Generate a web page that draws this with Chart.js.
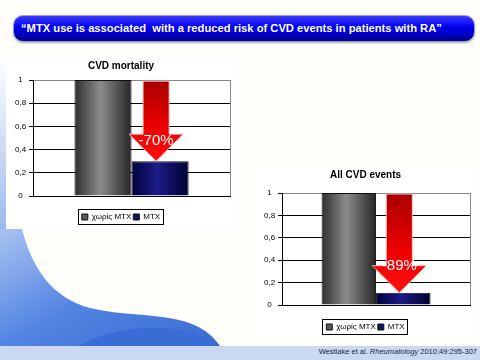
<!DOCTYPE html>
<html>
<head>
<meta charset="utf-8">
<script src="https://cdn.jsdelivr.net/npm/chart.js@4"></script>
<style>
  body { margin: 0; width: 480px; height: 360px; overflow: hidden; background: #fffefa; position: relative; font-family: "Liberation Sans", sans-serif; }
  #bg { position: absolute; left: 0; top: 0; }
  #banner {
    position: absolute; left: 13px; top: 15px; width: 462px; height: 27px;
    border-radius: 10px; box-sizing: border-box; border: 1px solid #9aa0c0;
    background: linear-gradient(to bottom, #3a3aff 0%, #0000f0 45%, #0000c0 75%, #00008a 100%);
    box-shadow: 0 1px 2px rgba(0,0,0,0.35);
    color: #fff; font: bold 11.2px "Liberation Sans", sans-serif; line-height: 25px; padding-left: 7px;
    white-space: nowrap;
  }
  .box { position: absolute; background: #fff; }
  #box1 { left: 6px; top: 57px; width: 232px; height: 172px; }
  #box2 { left: 255px; top: 164px; width: 222px; height: 172px; }
  #cite { position: absolute; right: 3px; top: 347px; font: 7.5px "Liberation Sans", sans-serif; color: #1a2448; }
</style>
</head>
<body>
<svg id="bg" width="480" height="360">
  <defs>
    <linearGradient id="sw" x1="0" y1="0" x2="1" y2="1">
      <stop offset="0" stop-color="#a9c3f2"/>
      <stop offset="0.5" stop-color="#5284e2"/>
      <stop offset="1" stop-color="#3a6bd2"/>
    </linearGradient>
    <linearGradient id="side" x1="0" y1="0" x2="0" y2="1">
      <stop offset="0" stop-color="#ffffff"/>
      <stop offset="1" stop-color="#9ab8ee"/>
    </linearGradient>
  </defs>
  <rect x="0" y="60" width="8" height="172" fill="url(#side)"/>
  <path d="M0,229 L22,229 C32,268 52,298 90,308 C140,320 195,308 220,346 L0,346 Z" fill="url(#sw)"/>
  <path d="M80,346 C105,326 190,318 215,346 Z" fill="#3a6cd6"/>
  <rect x="0" y="346" width="480" height="14" fill="#c8d9f1"/>
</svg>

<div id="banner">“MTX use is associated&nbsp; with a reduced risk of CVD events in patients with RA”</div>
<div class="box" id="box1"><canvas id="chart1" width="232" height="172"></canvas></div>
<div class="box" id="box2"><canvas id="chart2" width="222" height="172"></canvas></div>
<div id="cite">Westlake et al. <i>Rheumatology</i> 2010;49:295-307</div>

<script>
// data
var seriesNames = ['χωρίς MTX', 'MTX']
var categories = ['']
var mortalityValues = [1, 0.3]
var eventsValues = [1, 0.11]
var chartTitles = ['CVD mortality', 'All CVD events']
var reductionLabels = ['-70%', '-89%']

Chart.defaults.font.family = '"Liberation Sans", sans-serif'
Chart.defaults.color = '#000'

// bars get a horizontal "cylinder" gradient
var barShade = {
  id: 'barShade',
  beforeDatasetsDraw: function (chart) {
    var ctx = chart.ctx
    var stops = [
      ['#2e2e2e', '#8c8c8c', '#262626'],
      ['#00003c', '#1c1c86', '#000034']
    ]
    chart.data.datasets.forEach(function (ds, di) {
      chart.getDatasetMeta(di).data.forEach(function (bar) {
        var g = ctx.createLinearGradient(bar.x - bar.width / 2, 0, bar.x + bar.width / 2, 0)
        g.addColorStop(0, stops[di][0])
        g.addColorStop(0.45, stops[di][1])
        g.addColorStop(1, stops[di][2])
        bar.options.backgroundColor = g
      })
    })
  }
}

// red arrow from the top of the scale down to the MTX bar
var reductionArrow = {
  id: 'reductionArrow',
  afterDatasetsDraw: function (chart, args, opts) {
    var ctx = chart.ctx
    var bar = chart.getDatasetMeta(1).data[0]
    var y = chart.scales.y
    var cx = bar.x - 4
    var top = y.getPixelForValue(0.99)
    var tip = bar.y
    var headTop = tip - 27
    ctx.save()
    var g = ctx.createLinearGradient(0, top, 0, tip)
    g.addColorStop(0, '#a80000')
    g.addColorStop(0.6, '#f00000')
    g.addColorStop(1, '#ff1010')
    ctx.beginPath()
    ctx.moveTo(cx - 13, top)
    ctx.lineTo(cx + 13, top)
    ctx.lineTo(cx + 13, headTop)
    ctx.lineTo(cx + 27, headTop)
    ctx.lineTo(cx, tip)
    ctx.lineTo(cx - 27, headTop)
    ctx.lineTo(cx - 13, headTop)
    ctx.closePath()
    ctx.fillStyle = g
    ctx.fill()
    ctx.strokeStyle = 'rgba(255,200,200,0.8)'
    ctx.lineWidth = 1
    ctx.stroke()
    ctx.fillStyle = '#fff'
    ctx.font = '15px "Liberation Sans", sans-serif'
    ctx.textAlign = 'center'
    ctx.textBaseline = 'middle'
    ctx.fillText(opts.text, cx, headTop + opts.textOffset)
    ctx.restore()
  }
}

// thin black frame round the legend
var legendFrame = {
  id: 'legendFrame',
  afterDraw: function (chart) {
    var boxes = chart.legend.legendHitBoxes
    if (!boxes || !boxes.length) return
    var l = Math.min.apply(null, boxes.map(function (b) { return b.left }))
    var r = Math.max.apply(null, boxes.map(function (b) { return b.left + b.width }))
    var t = Math.min.apply(null, boxes.map(function (b) { return b.top }))
    var b2 = Math.max.apply(null, boxes.map(function (b) { return b.top + b.height }))
    var ctx = chart.ctx
    ctx.save()
    ctx.strokeStyle = '#000'
    ctx.lineWidth = 1
    ctx.strokeRect(Math.round(l - 4) + 0.5, Math.round(t - 4) + 0.5, Math.round(r - l + 7), Math.round(b2 - t + 7))
    ctx.restore()
  }
}

function makeChart(id, values, title, arrowText, layout) {
  var ctx = document.getElementById(id).getContext('2d')
  return new Chart(ctx, {
    type: 'bar',
    data: {
      labels: categories,
      datasets: [
        { label: seriesNames[0], data: [values[0]], backgroundColor: '#5a5a5a' },
        { label: seriesNames[1], data: [values[1]], backgroundColor: '#10106a' }
      ]
    },
    options: {
      responsive: false,
      animation: false,
      categoryPercentage: 0.58,
      barPercentage: 1,
      borderColor: '#111',
      borderWidth: 1,
      layout: { padding: layout.padding },
      plugins: {
        title: {
          display: true,
          text: title,
          font: { size: 10, weight: 'bold' },
          padding: layout.titlePadding
        },
        legend: {
          position: 'bottom',
          labels: {
            boxWidth: 6,
            boxHeight: 6,
            padding: 2,
            font: { size: 8 }
          }
        },
        tooltip: { enabled: false },
        reductionArrow: { text: arrowText, textOffset: layout.textOffset }
      },
      scales: {
        x: {
          ticks: { display: false },
          grid: { color: '#888', drawTicks: false, offset: true },
          border: { color: '#000' },
          afterFit: function (scale) { scale.height = layout.xHeight }
        },
        y: {
          min: 0,
          max: 1,
          ticks: {
            stepSize: 0.2,
            font: { size: 8 },
            padding: 3,
            crossAlign: 'center',
            callback: function (value) {
              return (Math.round(value * 10) / 10).toString().replace('.', ',')
            }
          },
          grid: {
            tickLength: 4,
            tickColor: '#000',
            color: function (c) {
              return c.tick && c.tick.value >= 1 ? '#888' : '#000'
            }
          },
          border: { color: '#000' }
        }
      }
    },
    plugins: [barShade, reductionArrow, legendFrame]
  })
}

makeChart('chart1', mortalityValues, chartTitles[0], reductionLabels[0],
  { padding: { left: 6, right: 8, top: 3, bottom: -2 }, titlePadding: { top: 0, bottom: 8 }, xHeight: 15, textOffset: 7 })
makeChart('chart2', eventsValues, chartTitles[1], reductionLabels[1],
  { padding: { left: 6, right: 7, top: 5, bottom: -5 }, titlePadding: { top: 0, bottom: 12 }, xHeight: 16, textOffset: 0 })
</script>
</body>
</html>
